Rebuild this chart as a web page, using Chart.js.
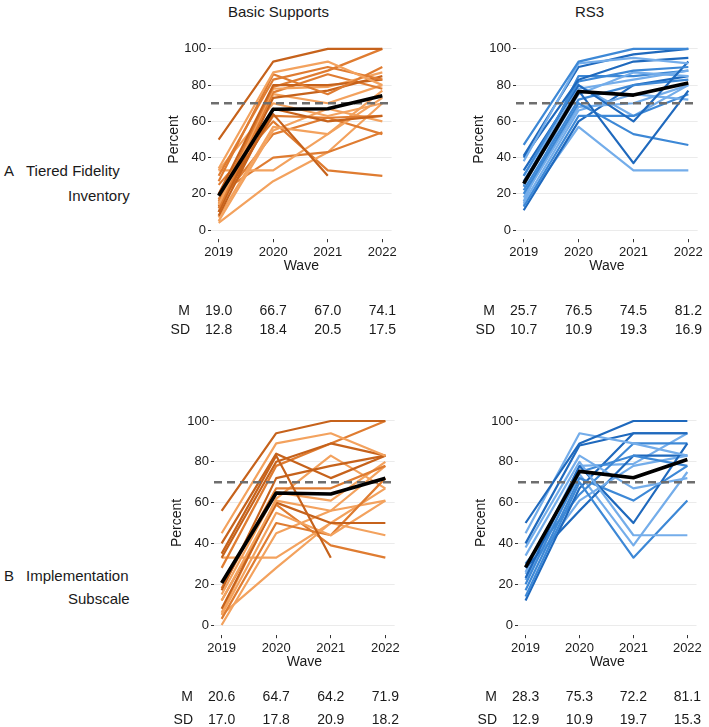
<!DOCTYPE html>
<html>
<head>
<meta charset="utf-8">
<script src="https://cdn.jsdelivr.net/npm/chart.js@4.4.1/dist/chart.umd.min.js"></script>
<style>
  body { margin: 0; width: 709px; height: 727px; background: #fff; position: relative; overflow: hidden;
         font-family: "Liberation Sans", Arial, sans-serif; color: #1a1a1a; }
  canvas { position: absolute; }
  .t { position: absolute; font-size: 15px; white-space: nowrap; line-height: 1; }
</style>
</head>
<body>

<div class="t" style="left:228px;top:4px;">Basic Supports</div>
<div class="t" style="left:575px;top:4px;">RS3</div>

<div class="t" style="left:4px;top:163px;">A</div>
<div class="t" style="left:26px;top:163px;">Tiered Fidelity</div>
<div class="t" style="left:68px;top:188px;">Inventory</div>

<div class="t" style="left:4px;top:568px;">B</div>
<div class="t" style="left:26px;top:568px;">Implementation</div>
<div class="t" style="left:68px;top:591px;">Subscale</div>

<canvas id="tl" width="258" height="320" style="left:141px;top:30px"></canvas>
<canvas id="tr" width="259" height="320" style="left:446px;top:30px"></canvas>
<canvas id="bl" width="258" height="327" style="left:144px;top:400px"></canvas>
<canvas id="br" width="256" height="327" style="left:448px;top:400px"></canvas>

<script>
// waves on the x axis
const WAVES = [2019, 2020, 2021, 2022];
const Y_TICKS = [0, 20, 40, 60, 80, 100];
const BENCHMARK = 70;

// Tiered Fidelity Inventory - Basic Supports, one row per school
const TFI_BASIC = [
  [50, 93, 100, 100], [34, 87, 93, 80], [27, 86, 75, 90], [30, 83, 90, 83],
  [20, 80, 80, 83], [17, 79, 88, 100], [14, 78, 79, 87], [12, 76, 86, 78],
  [10, 73, 77, 85], [33, 70, 63, 70], [8, 67, 60, 63], [13, 64, 30, null],
  [16, 63, 62, 63], [7, 57, 53, 73], [5, 55, 67, 60], [15, 53, 62, 53],
  [33, 33, 53, 77], [20, 40, 43, 54], [4, 27, 43, 70], [25, 60, 33, 30],
  [10, 75, 70, 80]
];
const TFI_BASIC_M = [19.0, 66.7, 67.0, 74.1];
const TFI_BASIC_SD = [12.8, 18.4, 20.5, 17.5];

// Tiered Fidelity Inventory - RS3
const TFI_RS3 = [
  [47, 93, 100, 100], [38, 92, 95, 92], [41, 90, 97, 100], [40, 83, 93, 95],
  [30, 82, 88, 90], [33, 80, 60, 93], [30, 78, 83, 88], [27, 77, 37, 77],
  [25, 75, 87, 85], [22, 72, 80, 83], [20, 70, 53, 47], [18, 68, 70, 80],
  [15, 66, 75, 72], [13, 63, 63, 75], [11, 60, 80, 85], [14, 57, 33, 33],
  [16, 80, 63, 80], [24, 85, 85, 88]
];
const TFI_RS3_M = [25.7, 76.5, 74.5, 81.2];
const TFI_RS3_SD = [10.7, 10.9, 19.3, 16.9];

// Implementation Subscale - Basic Supports
const IMP_BASIC = [
  [56, 94, 100, 100], [45, 89, 94, 83], [40, 84, 72, 83], [35, 83, 33, null],
  [33, 80, 89, 83], [28, 78, 89, 100], [17, 72, 78, 83], [18, 67, 67, 78],
  [15, 65, 61, 80], [12, 61, 56, 78], [8, 60, 50, 50], [5, 55, 44, 61],
  [3, 50, 44, 72], [0, 45, 56, 61], [33, 33, 50, 44], [5, 28, 50, 67],
  [12, 59, 39, 33], [6, 62, 83, 67]
];
const IMP_BASIC_M = [20.6, 64.7, 64.2, 71.9];
const IMP_BASIC_SD = [17.0, 17.8, 20.9, 18.2];

// Implementation Subscale - RS3
const IMP_RS3 = [
  [50, 89, 100, 100], [45, 94, 89, 83], [40, 88, 94, 94], [38, 83, 67, 72],
  [34, 80, 44, 44], [23, 78, 50, 89], [20, 75, 83, 78], [17, 72, 61, 78],
  [14, 70, 33, 61], [12, 67, 94, 94], [30, 64, 89, 89], [25, 61, 78, 83],
  [28, 56, 83, 83], [22, 74, 39, 75], [26, 78, 79, 94]
];
const IMP_RS3_M = [28.3, 75.3, 72.2, 81.1];
const IMP_RS3_SD = [12.9, 10.9, 19.7, 15.3];

// line shade per school (0 dark, 1 mid, 2 light)
const TFI_BASIC_SHADE = [0,2,1,1,0,1,2,1,0,2,0,0,1,2,2,1,2,1,2,1,2];
const TFI_RS3_SHADE = [1,2,0,0,1,0,2,0,2,1,1,2,2,1,0,2,2,1];
const IMP_BASIC_SHADE = [0,2,0,0,0,1,0,1,2,2,0,2,1,2,2,2,1,2];
const IMP_RS3_SHADE = [0,2,0,2,2,0,1,1,1,0,1,2,0,2,2];

const ORANGES = ['#c6621b', '#df7c31', '#f3a25e'];
const BLUES = ['#1f69bd', '#3d88d6', '#74adea'];

const FONT = '"Liberation Sans", Arial, sans-serif';
const TEXT = '#1a1a1a';

const benchPlugin = {
  id: 'bench',
  beforeDatasetDraw(chart, args) {
    if (args.index !== 0) return;
    const { ctx, chartArea: a, scales: { y } } = chart;
    const py = y.getPixelForValue(BENCHMARK);
    ctx.save();
    ctx.strokeStyle = '#6e6e6e';
    ctx.lineWidth = 2.6;
    ctx.setLineDash([8, 5]);
    ctx.beginPath();
    ctx.moveTo(a.left, py);
    ctx.lineTo(a.right, py);
    ctx.stroke();
    ctx.restore();
  },
  afterDraw(chart, args, opts) {
    const { ctx, chartArea: a, scales: { x } } = chart;
    ctx.save();
    ctx.fillStyle = TEXT;
    ctx.font = '14px ' + FONT;
    ctx.textBaseline = 'middle';
    ctx.textAlign = 'right';
    ctx.fillText('M', a.left - 21, opts.rows[0]);
    ctx.fillText('SD', a.left - 21, opts.rows[1]);
    ctx.textAlign = 'center';
    WAVES.forEach((w, i) => {
      const px = x.getPixelForValue(w);
      ctx.fillText(opts.mean[i].toFixed(1), px, opts.rows[0]);
      ctx.fillText(opts.sd[i].toFixed(1), px, opts.rows[1]);
    });
    ctx.restore();
  }
};

function makePanel(id, schools, shades, palette, mean, sd, pad, rows) {
  const datasets = [{
    data: WAVES.map((w, i) => ({ x: w, y: mean[i] })),
    borderColor: '#000',
    borderWidth: 3.6
  }];
  schools.forEach((s, k) => {
    datasets.push({
      data: WAVES.map((w, i) => ({ x: w, y: s[i] })),
      borderColor: palette[shades[k]],
      borderWidth: 2.2
    });
  });

  new Chart(document.getElementById(id), {
    type: 'line',
    data: { datasets },
    plugins: [benchPlugin],
    options: {
      responsive: false,
      devicePixelRatio: 1,
      animation: false,
      spanGaps: false,
      elements: { point: { radius: 0 }, line: { tension: 0, borderCapStyle: 'butt', borderJoinStyle: 'round' } },
      layout: { padding: pad },
      plugins: {
        legend: { display: false },
        tooltip: { enabled: false },
        bench: { mean, sd, rows }
      },
      scales: {
        x: {
          type: 'linear',
          min: 2018.86,
          max: 2022.17,
          afterBuildTicks: s => { s.ticks = WAVES.map(v => ({ value: v })); },
          afterFit: s => { s.height = 40; },
          border: { display: false },
          grid: { drawOnChartArea: false, drawTicks: true, tickLength: 3, tickColor: '#333', lineWidth: 1 },
          ticks: { font: { size: 13, family: FONT }, color: TEXT, padding: 2, maxRotation: 0, autoSkip: false,
                   callback: v => String(v) },
          title: { display: true, text: 'Wave', font: { size: 14, family: FONT }, color: TEXT,
                   padding: { top: 0, bottom: 5 } }
        },
        y: {
          min: -5,
          max: 105,
          afterBuildTicks: s => { s.ticks = Y_TICKS.map(v => ({ value: v })); },
          afterFit: s => { s.width = 70; },
          border: { display: false },
          grid: { color: '#ebebeb', lineWidth: 1, tickColor: '#333', tickLength: 3 },
          ticks: { font: { size: 13, family: FONT }, color: TEXT, padding: 2 },
          title: { display: true, text: 'Percent', font: { size: 14, family: FONT }, color: TEXT,
                   padding: { top: 25, bottom: 0 } }
        }
      }
    }
  });
}

makePanel('tl', TFI_BASIC, TFI_BASIC_SHADE, ORANGES, TFI_BASIC_M, TFI_BASIC_SD,
  { top: 5.75, right: 4, bottom: 70.75, left: 0 }, [281, 300]);
makePanel('tr', TFI_RS3, TFI_RS3_SHADE, BLUES, TFI_RS3_M, TFI_RS3_SD,
  { top: 5.75, right: 4, bottom: 70.75, left: 0 }, [281, 300]);
makePanel('bl', IMP_BASIC, IMP_BASIC_SHADE, ORANGES, IMP_BASIC_M, IMP_BASIC_SD,
  { top: 10.8, right: 3.5, bottom: 51.8, left: 0 }, [297, 320]);
makePanel('br', IMP_RS3, IMP_RS3_SHADE, BLUES, IMP_RS3_M, IMP_RS3_SD,
  { top: 10.8, right: 3.6, bottom: 51.8, left: 0 }, [297, 320]);
</script>
</body>
</html>
